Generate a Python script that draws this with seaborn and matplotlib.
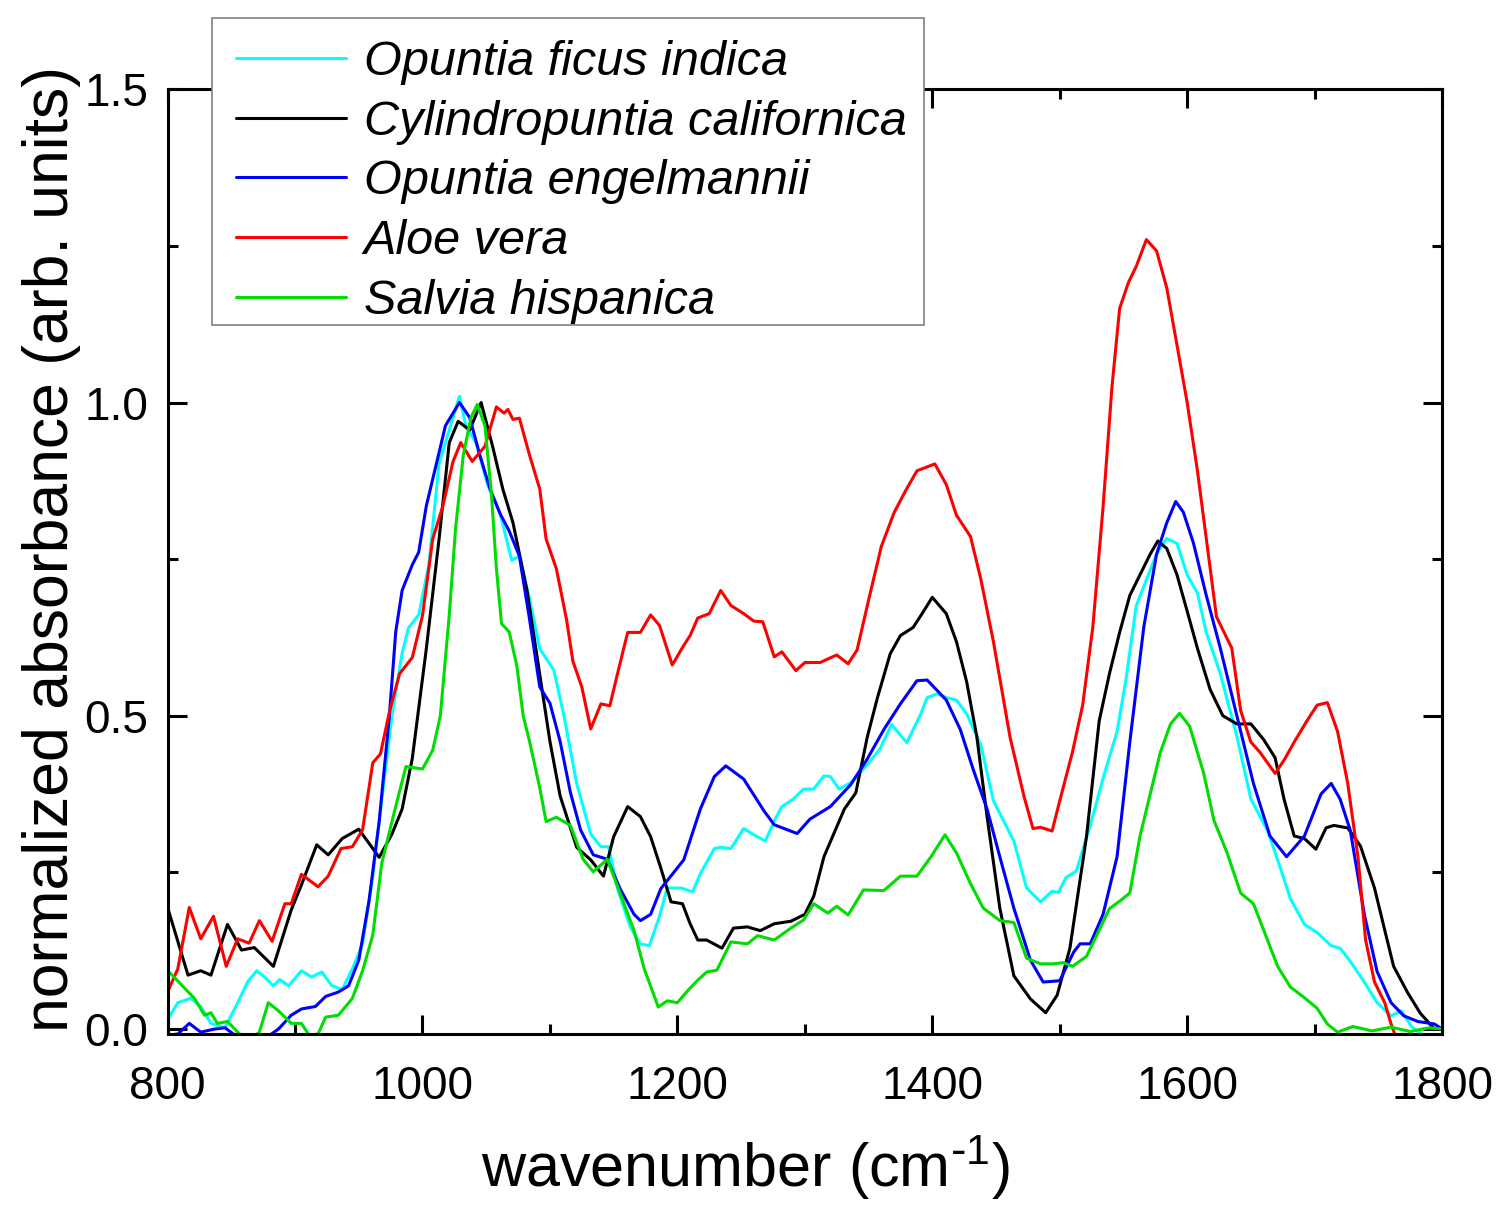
import matplotlib
matplotlib.use("Agg")
import matplotlib.pyplot as plt
from matplotlib import font_manager
from matplotlib.patches import Rectangle
from matplotlib.ticker import MultipleLocator, FormatStrFormatter
import seaborn as sns
import pandas as pd

# ---- data ----
names = ["Opuntia ficus indica", "Cylindropuntia californica", "Opuntia engelmannii",
         "Aloe vera", "Salvia hispanica"]
colors = ["#00ffff", "#000000", "#0000ff", "#ff0000", "#00dd00"]

ofi_x = [800, 808, 818, 826, 834, 845, 855, 863, 870, 876, 883, 888, 895, 905, 913, 921, 929, 937, 945, 953,
         961, 968, 976, 984, 989, 997, 1005, 1013, 1021, 1029, 1034, 1042, 1051, 1061, 1070, 1076, 1084, 1092,
         1103, 1111, 1121, 1132, 1140, 1146, 1153, 1163, 1171, 1178, 1186, 1192, 1203, 1212, 1218, 1229, 1234,
         1242, 1252, 1260, 1269, 1276, 1282, 1291, 1299, 1307, 1315, 1320, 1327, 1336, 1349, 1359, 1368, 1380,
         1391, 1396, 1404, 1411, 1419, 1427, 1438, 1448, 1464, 1474, 1485, 1494, 1499, 1505, 1513, 1524, 1534,
         1545, 1552, 1560, 1568, 1576, 1584, 1592, 1600, 1608, 1615, 1626, 1639, 1650, 1663, 1673, 1681, 1692,
         1702, 1713, 1720, 1728, 1739, 1749, 1760, 1768, 1776, 1785, 1800]
ofi_y = [0.015, 0.042, 0.049, 0.036, 0.009, 0.002, 0.042, 0.076, 0.093, 0.083, 0.069, 0.079, 0.069, 0.093, 0.083,
         0.091, 0.069, 0.063, 0.096, 0.136, 0.244, 0.365, 0.50, 0.60, 0.64, 0.661, 0.741, 0.903, 0.956, 1.01,
         0.963, 0.936, 0.869, 0.822, 0.748, 0.755, 0.687, 0.607, 0.573, 0.50, 0.392, 0.311, 0.291, 0.291, 0.224,
         0.163, 0.136, 0.133, 0.18, 0.225, 0.225, 0.219, 0.248, 0.288, 0.29, 0.288, 0.32, 0.31, 0.30, 0.332,
         0.355, 0.367, 0.383, 0.383, 0.404, 0.403, 0.383, 0.393, 0.422, 0.447, 0.486, 0.457, 0.503, 0.529, 0.535,
         0.529, 0.525, 0.503, 0.454, 0.364, 0.30, 0.225, 0.203, 0.22, 0.218, 0.242, 0.252, 0.325, 0.40, 0.475,
         0.558, 0.675, 0.717, 0.758, 0.783, 0.775, 0.725, 0.696, 0.633, 0.567, 0.467, 0.367, 0.317, 0.258, 0.208,
         0.167, 0.154, 0.133, 0.129, 0.108, 0.075, 0.042, 0.021, 0.029, 0.004, -0.01, -0.02]

cc_x = [800, 816, 826, 834, 847, 858, 868, 883, 897, 905, 917, 926, 937, 950, 966, 976, 984, 992, 1003, 1013,
        1021, 1028, 1037, 1046, 1055, 1063, 1071, 1082, 1092, 1100, 1108, 1121, 1132, 1142, 1150, 1161, 1171,
        1179, 1187, 1195, 1204, 1210, 1216, 1223, 1235, 1244, 1255, 1265, 1276, 1289, 1300, 1307, 1315, 1323,
        1331, 1340, 1349, 1357, 1367, 1375, 1385, 1392, 1400, 1411, 1419, 1427, 1435, 1443, 1453, 1464, 1477,
        1489, 1498, 1508, 1521, 1531, 1539, 1547, 1555, 1563, 1571, 1577, 1584, 1592, 1600, 1608, 1618, 1628,
        1639, 1650, 1660, 1669, 1676, 1684, 1692, 1701, 1709, 1715, 1726, 1736, 1747, 1755, 1762, 1773, 1783,
        1794, 1800]
cc_y = [0.194, 0.086, 0.093, 0.086, 0.167, 0.126, 0.13, 0.10, 0.19, 0.23, 0.294, 0.278, 0.304, 0.319, 0.274,
        0.311, 0.351, 0.432, 0.607, 0.782, 0.936, 0.97, 0.956, 1.0, 0.93, 0.862, 0.808, 0.70, 0.566, 0.459,
        0.372, 0.29, 0.27, 0.244, 0.307, 0.355, 0.339, 0.307, 0.257, 0.203, 0.20, 0.168, 0.142, 0.142, 0.129,
        0.161, 0.163, 0.157, 0.168, 0.172, 0.183, 0.212, 0.275, 0.313, 0.351, 0.377, 0.466, 0.529, 0.599, 0.628,
        0.641, 0.663, 0.689, 0.663, 0.618, 0.554, 0.466, 0.339, 0.193, 0.085, 0.048, 0.026, 0.054, 0.129, 0.307,
        0.492, 0.567, 0.633, 0.692, 0.725, 0.758, 0.779, 0.767, 0.725, 0.667, 0.608, 0.542, 0.50, 0.487, 0.487,
        0.462, 0.433, 0.367, 0.308, 0.304, 0.287, 0.321, 0.325, 0.321, 0.292, 0.225, 0.158, 0.10, 0.058, 0.025,
        0.0, 0.0]

oe_x = [800, 808, 817, 826, 837, 845, 853, 865, 880, 887, 897, 905, 916, 924, 934, 942, 950, 958, 966, 974, 979,
        984, 992, 997, 1003, 1011, 1018, 1029, 1037, 1045, 1053, 1061, 1068, 1076, 1084, 1092, 1100, 1108, 1116,
        1124, 1134, 1145, 1155, 1166, 1171, 1179, 1187, 1205, 1218, 1229, 1238, 1252, 1268, 1276, 1294, 1304,
        1320, 1336, 1349, 1362, 1375, 1388, 1396, 1411, 1422, 1432, 1443, 1453, 1464, 1477, 1487, 1500, 1511,
        1516, 1524, 1534, 1545, 1555, 1566, 1576, 1584, 1591, 1597, 1605, 1615, 1626, 1639, 1652, 1665, 1678,
        1692, 1705, 1713, 1720, 1728, 1739, 1749, 1760, 1770, 1781, 1794, 1800]
oe_y = [-0.01, -0.008, 0.009, -0.005, 0.0, 0.002, -0.01, -0.02, -0.01, 0.0, 0.022, 0.032, 0.036, 0.052, 0.059,
        0.069, 0.11, 0.204, 0.331, 0.50, 0.634, 0.70, 0.741, 0.761, 0.835, 0.903, 0.963, 1.0, 0.976, 0.916,
        0.862, 0.822, 0.795, 0.755, 0.654, 0.546, 0.52, 0.459, 0.378, 0.318, 0.278, 0.271, 0.224, 0.183, 0.173,
        0.183, 0.224, 0.27, 0.351, 0.403, 0.42, 0.399, 0.348, 0.326, 0.312, 0.335, 0.355, 0.39, 0.431, 0.478,
        0.519, 0.556, 0.557, 0.525, 0.478, 0.415, 0.351, 0.275, 0.193, 0.11, 0.075, 0.077, 0.123, 0.136, 0.136,
        0.183, 0.275, 0.458, 0.642, 0.758, 0.808, 0.842, 0.825, 0.775, 0.692, 0.608, 0.50, 0.392, 0.308, 0.275,
        0.308, 0.375, 0.392, 0.367, 0.317, 0.183, 0.092, 0.042, 0.021, 0.012, 0.008, 0.0]

av_x = [800, 808, 817, 826, 836, 846, 855, 864, 872, 882, 892, 897, 905, 918, 926, 936, 945, 953, 961, 967, 974,
        982, 992, 1000, 1008, 1016, 1024, 1030, 1039, 1049, 1058, 1064, 1067, 1071, 1076, 1084, 1092, 1097, 1105,
        1113, 1118, 1125, 1132, 1140, 1147, 1153, 1161, 1171, 1179, 1186, 1196, 1204, 1210, 1216, 1225, 1234,
        1242, 1252, 1260, 1267, 1276, 1282, 1293, 1300, 1312, 1325, 1334, 1341, 1351, 1360, 1370, 1379, 1388,
        1402, 1411, 1419, 1430, 1438, 1448, 1461, 1472, 1479, 1485, 1494, 1500, 1510, 1518, 1526, 1534, 1541,
        1547, 1554, 1560, 1568, 1576, 1584, 1592, 1600, 1608, 1615, 1623, 1629, 1635, 1642, 1650, 1657, 1663,
        1669, 1676, 1684, 1694, 1702, 1710, 1718, 1726, 1734, 1740, 1747, 1755, 1760, 1765]
av_y = [0.059, 0.096, 0.194, 0.144, 0.18, 0.10, 0.144, 0.137, 0.173, 0.14, 0.20, 0.20, 0.247, 0.227, 0.244,
        0.288, 0.291, 0.318, 0.425, 0.439, 0.506, 0.567, 0.593, 0.66, 0.782, 0.835, 0.906, 0.936, 0.906, 0.93,
        0.993, 0.983, 0.989, 0.973, 0.975, 0.916, 0.862, 0.782, 0.735, 0.654, 0.587, 0.546, 0.479, 0.519, 0.516,
        0.567, 0.633, 0.633, 0.661, 0.644, 0.581, 0.609, 0.628, 0.656, 0.663, 0.70, 0.676, 0.663, 0.651, 0.65,
        0.594, 0.602, 0.572, 0.585, 0.585, 0.597, 0.583, 0.605, 0.693, 0.77, 0.824, 0.859, 0.891, 0.902, 0.869,
        0.82, 0.786, 0.719, 0.618, 0.466, 0.371, 0.32, 0.322, 0.316, 0.364, 0.442, 0.517, 0.642, 0.833, 1.025,
        1.15, 1.192, 1.217, 1.26, 1.242, 1.183, 1.092, 1.0, 0.892, 0.783, 0.658, 0.633, 0.608, 0.508, 0.458,
        0.442, 0.425, 0.408, 0.429, 0.458, 0.492, 0.517, 0.521, 0.475, 0.392, 0.275, 0.142, 0.075, 0.042, 0.008,
        -0.02]

sh_x = [800, 805, 813, 821, 829, 834, 839, 847, 855, 863, 872, 879, 887, 897, 905, 911, 918, 924, 934, 945, 953,
        961, 968, 976, 987, 1000, 1008, 1014, 1021, 1026, 1032, 1038, 1043, 1049, 1054, 1058, 1062, 1068, 1074,
        1079, 1084, 1092, 1097, 1105, 1116, 1126, 1134, 1145, 1155, 1166, 1174, 1185, 1192, 1200, 1208, 1216,
        1223, 1231, 1242, 1255, 1263, 1276, 1289, 1299, 1307, 1318, 1325, 1334, 1346, 1362, 1375, 1388, 1399,
        1410, 1419, 1430, 1440, 1453, 1464, 1474, 1485, 1495, 1503, 1510, 1521, 1531, 1539, 1547, 1555, 1563,
        1571, 1579, 1587, 1594, 1602, 1613, 1621, 1631, 1642, 1652, 1660, 1671, 1681, 1692, 1702, 1710, 1718,
        1730, 1745, 1760, 1775, 1790, 1800]
sh_y = [0.093, 0.083, 0.066, 0.049, 0.022, 0.026, 0.009, 0.012, -0.005, -0.02, -0.005, 0.042, 0.029, 0.009,
        0.009, -0.01, -0.008, 0.019, 0.022, 0.049, 0.093, 0.15, 0.264, 0.331, 0.419, 0.415, 0.445, 0.50, 0.661,
        0.80, 0.916, 0.976, 0.997, 0.963, 0.856, 0.735, 0.647, 0.634, 0.58, 0.50, 0.459, 0.385, 0.331, 0.338,
        0.325, 0.271, 0.251, 0.271, 0.217, 0.157, 0.096, 0.035, 0.045, 0.042, 0.061, 0.078, 0.091, 0.094, 0.139,
        0.136, 0.149, 0.142, 0.161, 0.174, 0.20, 0.185, 0.196, 0.182, 0.222, 0.221, 0.244, 0.244, 0.275, 0.31,
        0.281, 0.232, 0.193, 0.173, 0.17, 0.113, 0.104, 0.104, 0.106, 0.10, 0.116, 0.158, 0.192, 0.204, 0.217,
        0.308, 0.375, 0.442, 0.487, 0.504, 0.483, 0.408, 0.333, 0.283, 0.217, 0.20, 0.158, 0.10, 0.067, 0.05,
        0.033, 0.008, -0.005, 0.004, -0.003, 0.003, -0.004, 0.002, 0.0]

xs = [ofi_x, cc_x, oe_x, av_x, sh_x]
ys = [ofi_y, cc_y, oe_y, av_y, sh_y]

frames = []
for n, x, y in zip(names, xs, ys):
    frames.append(pd.DataFrame({"wavenumber": x, "absorbance": y, "sample": n}))
df = pd.concat(frames, ignore_index=True)

# ---- style ----
sns.set_style("ticks")
installed = {f.name for f in font_manager.fontManager.ttflist}
main_font = "Liberation Sans" if "Liberation Sans" in installed else "DejaVu Sans"
leg_font = "Liberation Sans Narrow" if "Liberation Sans Narrow" in installed else main_font
plt.rcParams["font.family"] = [main_font, "DejaVu Sans"]
plt.rcParams["mathtext.default"] = "regular"
plt.rcParams["text.color"] = "black"
plt.rcParams["axes.labelcolor"] = "black"
plt.rcParams["xtick.color"] = "black"
plt.rcParams["ytick.color"] = "black"

W, H = 1510, 1206
fig = plt.figure(figsize=(W / 100, H / 100), dpi=100)
ax = fig.add_axes([0.111, 0.1426, 0.844, 0.7834])

sns.lineplot(data=df, x="wavenumber", y="absorbance", hue="sample", hue_order=names,
             palette=colors, estimator=None, sort=False, linewidth=2.2, ax=ax, legend=False)
for ln in ax.lines:
    ln.set_solid_joinstyle("round")

ax.set_xlim(800, 1800)
ax.set_ylim(-0.008, 1.5)
ax.xaxis.set_major_locator(MultipleLocator(200))
ax.xaxis.set_minor_locator(MultipleLocator(100))
ax.yaxis.set_major_locator(MultipleLocator(0.5))
ax.yaxis.set_minor_locator(MultipleLocator(0.25))
ax.yaxis.set_major_formatter(FormatStrFormatter("%.1f"))
ax.tick_params(which="both", direction="in", top=True, right=True, width=2.2, labelsize=33)
ax.tick_params(axis="x", pad=22)
ax.tick_params(axis="y", pad=14)
ax.tick_params(which="major", length=14)
ax.tick_params(which="minor", length=7)
for s in ax.spines.values():
    s.set_linewidth(2.2)
    s.set_color("black")

ax.set_xlabel("wavenumber (cm$^{\\text{-}1}$)", fontsize=44)
ax.xaxis.set_label_coords(0.4537, -0.105)
ax.set_ylabel("normalized absorbance (arb. units)", fontsize=45)
ax.yaxis.set_label_coords(-0.068, 0.513)

# legend: entries without frame, box drawn separately so it sits where the original's does
handles = [plt.Line2D([], [], color=c, linewidth=2.2) for c in colors]
leg = fig.legend(handles, names, loc="upper left", bbox_to_anchor=(212 / W, 1 - 16 / H),
                 bbox_transform=fig.transFigure, frameon=False,
                 prop={"family": leg_font, "style": "italic", "size": 35},
                 handlelength=2.26, handletextpad=0.36, labelspacing=0.3, borderpad=0.5,
                 borderaxespad=0)
box = Rectangle((212 / W, 1 - 325 / H), (924 - 212) / W, (325 - 18) / H, transform=fig.transFigure,
                fill=True, facecolor="white", edgecolor="#808080", linewidth=1.2, zorder=2)
fig.patches.append(box)
leg.set_zorder(3)

fig.savefig("out.png", dpi=100)
